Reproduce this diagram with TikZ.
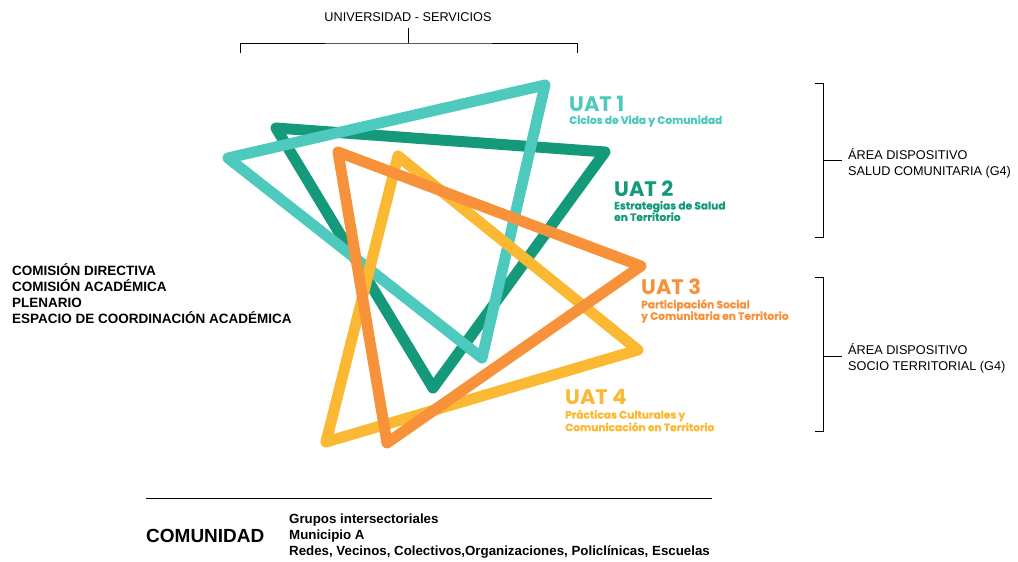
\documentclass[tikz,border=0pt]{standalone}
\usepackage{fontspec}
\setmainfont{Liberation Sans}
\newfontfamily\uatfont{Poppins}[UprightFont={* Bold}, BoldFont={* Bold}]
\newfontfamily\uatsubfont{Poppins}[UprightFont={* Bold}, FakeBold=0.6]
\usetikzlibrary{positioning}

\definecolor{uatA}{HTML}{4DC9BE}
\definecolor{uatB}{HTML}{14997B}
\definecolor{uatC}{HTML}{F7923A}
\definecolor{uatD}{HTML}{FBB832}

\tikzset{
  tri/.style={line width=11pt, line join=round, line cap=round},
  uattitle/.style={anchor=west, inner sep=0pt, font=\uatfont\fontsize{21}{21}\selectfont},
  uatsub/.style={anchor=west, inner sep=0pt, align=left, font=\uatsubfont\fontsize{10.6}{11.5}\selectfont},
  plain/.style={inner sep=0pt, align=left, font=\fontsize{12.7}{16}\selectfont},
  heavy/.style={inner sep=0pt, align=left, font=\bfseries\fontsize{13.5}{16}\selectfont},
  brk/.style={line width=0.8pt}
}

\begin{document}
\begin{tikzpicture}[x=1pt, y=-1pt]
    \useasboundingbox (0,0) rectangle (1018,562);

    % Four triangles
    \draw[tri, uatB] (276,128) -- (605,152) -- (433,388) -- cycle;
    \draw[tri, uatA] (545,85) -- (228,158) -- (482,358) -- cycle;
    \draw[tri, uatD] (398,156) -- (638,350) -- (326,442) -- cycle;
    \draw[tri, uatC] (338,152) -- (641,266) -- (387,443) -- cycle;

    % UAT labels
    \node[uattitle, uatA] (uat1) at (569,103.5) {UAT 1};
    \node[uatsub, uatA] (uat1sub) at (569,121) {Ciclos de Vida y Comunidad};

    \node[uattitle, uatB] (uat2) at (614,188.5) {UAT 2};
    \node[uatsub, uatB] (uat2sub) at (614,211) {Estrategias de Salud\\en Territorio};

    \node[uattitle, uatC] (uat3) at (641,287) {UAT 3};
    \node[uatsub, uatC] (uat3sub) at (641,311) {Participación Social\\y Comunitaria en Territorio};

    \node[uattitle, uatD] (uat4) at (565,397) {UAT 4};
    \node[uatsub, uatD] (uat4sub) at (565,420.5) {Prácticas Culturales y\\Comunicación en Territorio};

    % Top bracket
    \node[plain] (univ) at (408,17) {UNIVERSIDAD - SERVICIOS};
    \coordinate (univL) at (240,53);
    \coordinate (univR) at (577,53);
    \coordinate (univM) at (408,43);
    \draw[brk] (univL) |- (univM) -| (univR);
    \draw[brk] ([yshift=-6pt]univ.south) -- (univM);

    % Left block
    \node[heavy, anchor=west] (organos) at (12,294)
        {COMISIÓN DIRECTIVA\\COMISIÓN ACADÉMICA\\PLENARIO\\ESPACIO DE COORDINACIÓN ACADÉMICA};

    % Right brackets
    \node[plain, anchor=west] (areaA) at (848,163) {ÁREA DISPOSITIVO\\SALUD COMUNITARIA (G4)};
    \coordinate (areaAtop) at (815,83);
    \coordinate (areaAbot) at (815,237);
    \coordinate (areaAmid) at (823,160);
    \draw[brk] (areaAtop) -- ++(8,0) |- (areaAbot);
    \draw[brk] (areaAmid) -- ([xshift=-6pt]areaA.west |- areaAmid);

    \node[plain, anchor=west] (areaB) at (848,358) {ÁREA DISPOSITIVO\\SOCIO TERRITORIAL (G4)};
    \coordinate (areaBtop) at (815,277);
    \coordinate (areaBbot) at (815,431);
    \coordinate (areaBmid) at (823,356);
    \draw[brk] (areaBtop) -- ++(8,0) |- (areaBbot);
    \draw[brk] (areaBmid) -- ([xshift=-6pt]areaB.west |- areaBmid);

    % Bottom
    \coordinate (baseL) at (146,498);
    \coordinate (baseR) at (712,498);
    \draw[brk] (baseL) -- (baseR);
    \node[inner sep=0pt, anchor=west, font=\bfseries\fontsize{19}{20}\selectfont] (comu) at (146,536) {COMUNIDAD};
    \node[heavy, anchor=west, font=\bfseries\fontsize{13.3}{16}\selectfont] (grupos) at (289,536)
        {Grupos intersectoriales\\Municipio A\\Redes, Vecinos, Colectivos,Organizaciones, Policlínicas, Escuelas};
\end{tikzpicture}
\end{document}
